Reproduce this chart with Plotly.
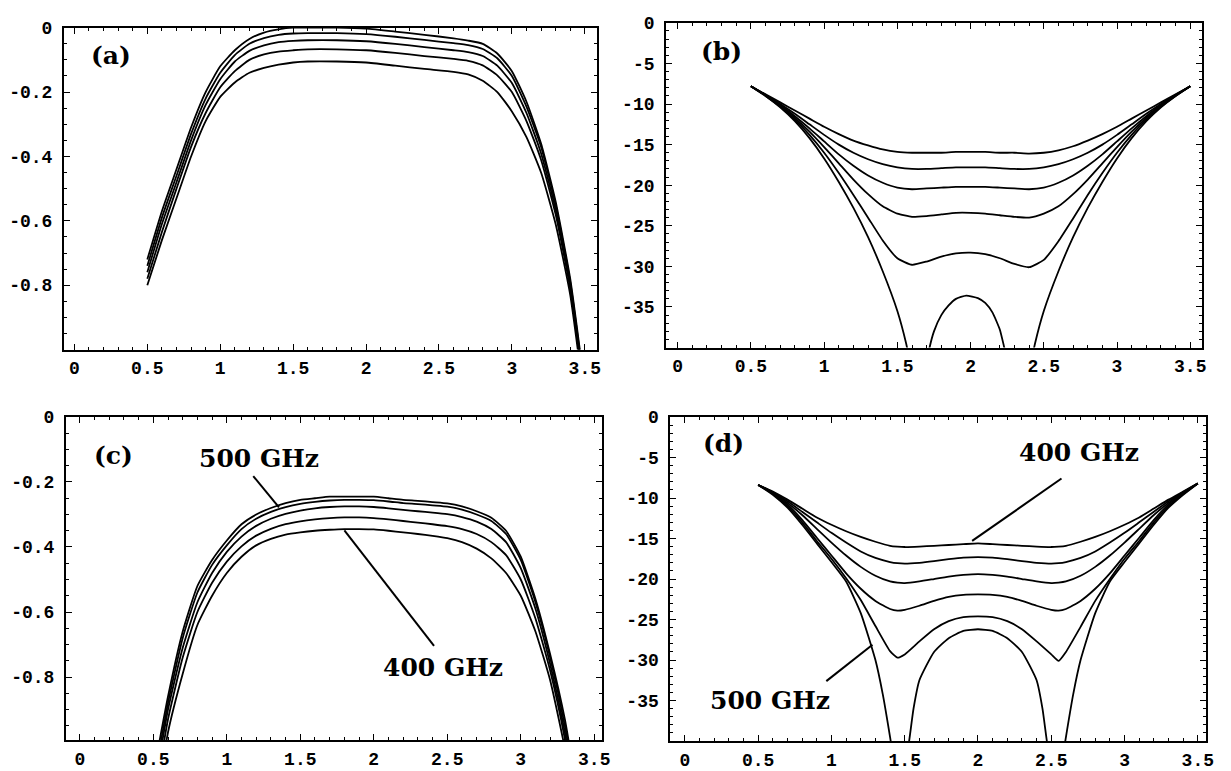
import plotly.graph_objects as go

# ---------------- data ----------------
# panel (a)
A_X = [0.5, 0.6, 0.7, 0.8, 0.9, 1.0, 1.1, 1.2, 1.3, 1.4, 1.5, 1.6, 1.8, 2.0, 2.2, 2.4, 2.6, 2.7, 2.8, 2.9, 3.0, 3.1, 3.2, 3.3, 3.4, 3.5]
A1 = [-0.72, -0.57, -0.44, -0.31, -0.2, -0.12, -0.07, -0.035, -0.015, -0.005, 0.0, 0.0, 0.0, -0.003, -0.012, -0.022, -0.033, -0.04, -0.05, -0.08, -0.135, -0.23, -0.36, -0.54, -0.78, -1.12]
A2 = [-0.74, -0.59, -0.46, -0.33, -0.22, -0.14, -0.085, -0.05, -0.032, -0.022, -0.018, -0.017, -0.017, -0.02, -0.028, -0.038, -0.048, -0.054, -0.066, -0.095, -0.15, -0.245, -0.37, -0.55, -0.79, -1.13]
A3 = [-0.76, -0.61, -0.48, -0.35, -0.24, -0.16, -0.105, -0.072, -0.055, -0.045, -0.041, -0.039, -0.039, -0.042, -0.05, -0.06, -0.07, -0.076, -0.088, -0.118, -0.172, -0.265, -0.39, -0.565, -0.8, -1.14]
A4 = [-0.78, -0.635, -0.5, -0.37, -0.265, -0.185, -0.135, -0.1, -0.083, -0.074, -0.07, -0.067, -0.067, -0.07, -0.078, -0.088, -0.097, -0.103, -0.117, -0.148, -0.2, -0.29, -0.41, -0.58, -0.81, -1.15]
A5 = [-0.8, -0.66, -0.53, -0.4, -0.29, -0.215, -0.17, -0.14, -0.125, -0.115, -0.108, -0.105, -0.105, -0.108, -0.118, -0.128, -0.137, -0.145, -0.165, -0.2, -0.26, -0.34, -0.45, -0.61, -0.83, -1.17]

# panel (b)
B_X = [0.5, 0.6, 0.7, 0.8, 0.9, 1.0, 1.1, 1.2, 1.3, 1.4, 1.5, 1.6, 1.7, 1.8, 1.9, 2.0,
       2.1, 2.2, 2.3, 2.4, 2.5, 2.6, 2.7, 2.8, 2.9, 3.0, 3.1, 3.2, 3.3, 3.4, 3.5]
B1 = [-7.8, -8.8, -9.8, -10.8, -11.8, -12.8, -13.7, -14.5, -15.1, -15.6, -15.9, -16.0, -16.0, -16.0, -15.9, -15.9,
      -15.9, -16.0, -16.0, -16.1, -16.0, -15.7, -15.2, -14.5, -13.7, -12.8, -11.8, -10.8, -9.8, -8.8, -7.8]
B2 = [-7.8, -8.9, -10.0, -11.2, -12.5, -13.8, -15.0, -16.0, -16.8, -17.4, -17.8, -18.0, -18.0, -17.9, -17.8, -17.8,
      -17.8, -17.9, -18.0, -18.0, -17.8, -17.4, -16.8, -16.0, -15.0, -13.8, -12.5, -11.2, -10.0, -8.9, -7.8]
B3 = [-7.8, -8.9, -10.1, -11.5, -13.0, -14.6, -16.2, -17.6, -18.8, -19.7, -20.3, -20.5, -20.4, -20.3, -20.2, -20.2,
      -20.2, -20.3, -20.4, -20.5, -20.3, -19.7, -18.8, -17.6, -16.2, -14.6, -13.0, -11.5, -10.1, -8.9, -7.8]
B4 = [-7.8, -8.9, -10.2, -11.7, -13.4, -15.3, -17.3, -19.3, -21.1, -22.6, -23.5, -23.9, -23.8, -23.6, -23.4, -23.4,
      -23.5, -23.7, -23.9, -24.0, -23.5, -22.6, -21.1, -19.3, -17.3, -15.3, -13.4, -11.7, -10.2, -8.9, -7.8]
B5 = [-7.8, -9.0, -10.3, -11.9, -13.8, -16.0, -18.5, -21.2, -24.0, -26.8, -29.0, -29.8, -29.4, -28.8, -28.4, -28.3,
      -28.5, -29.0, -29.7, -30.1, -29.2, -26.9, -24.1, -21.2, -18.5, -16.0, -13.8, -11.9, -10.3, -9.0, -7.8]
B6_X = [0.5, 0.6, 0.7, 0.8, 0.9, 1.0, 1.1, 1.2, 1.3, 1.4, 1.5, 1.56, 1.6, None,
        1.7, 1.72, 1.75, 1.8, 1.85, 1.9, 1.97, 2.05, 2.1, 2.15, 2.2, 2.23, 2.25, None,
        2.4, 2.44, 2.5, 2.6, 2.7, 2.8, 2.9, 3.0, 3.1, 3.2, 3.3, 3.4, 3.5]
B6 = [-7.8, -9.0, -10.4, -12.1, -14.2, -16.7, -19.6, -22.8, -26.4, -30.6, -35.5, -39.5, -43, None,
      -42, -40, -38, -36, -34.8, -34.0, -33.6, -33.9, -34.5, -35.7, -37.8, -40, -41.5, None,
      -43, -39.5, -35.5, -30.6, -26.4, -22.8, -19.6, -16.7, -14.2, -12.1, -10.4, -9.0, -7.8]

# panel (c)
C_X = [0.5, 0.6, 0.7, 0.8, 0.9, 1.0, 1.1, 1.2, 1.3, 1.4, 1.5, 1.6, 1.7, 1.8, 1.9, 2.0,
       2.1, 2.2, 2.3, 2.4, 2.5, 2.6, 2.7, 2.8, 2.9, 3.0, 3.1, 3.2, 3.3, 3.4]
C1 = [-1.1, -0.86, -0.66, -0.52, -0.44, -0.38, -0.33, -0.3, -0.28, -0.265, -0.255, -0.25, -0.245, -0.245, -0.245, -0.245,
      -0.25, -0.255, -0.258, -0.262, -0.266, -0.275, -0.29, -0.31, -0.35, -0.43, -0.56, -0.73, -0.93, -1.2]
C2 = [-1.13, -0.88, -0.68, -0.54, -0.455, -0.395, -0.345, -0.313, -0.292, -0.277, -0.267, -0.261, -0.257, -0.255, -0.255, -0.256,
      -0.26, -0.265, -0.268, -0.272, -0.276, -0.285, -0.3, -0.32, -0.36, -0.44, -0.57, -0.74, -0.95, -1.22]
C3 = [-1.16, -0.9, -0.71, -0.57, -0.48, -0.415, -0.368, -0.335, -0.313, -0.298, -0.288, -0.281, -0.277, -0.275, -0.275, -0.277,
      -0.281, -0.286, -0.29, -0.294, -0.299, -0.308, -0.322, -0.345, -0.385, -0.465, -0.59, -0.76, -0.97, -1.24]
C4 = [-1.2, -0.93, -0.74, -0.6, -0.51, -0.445, -0.398, -0.365, -0.344, -0.33, -0.321, -0.315, -0.311, -0.309, -0.309, -0.311,
      -0.315, -0.32, -0.325, -0.33, -0.336, -0.345, -0.36, -0.385, -0.425, -0.5, -0.62, -0.78, -0.99, -1.26]
C5 = [-1.25, -0.97, -0.79, -0.64, -0.55, -0.48, -0.43, -0.395, -0.375, -0.362, -0.355, -0.35, -0.347, -0.345, -0.345, -0.346,
      -0.35, -0.355, -0.36, -0.366, -0.373, -0.385, -0.405, -0.435, -0.48, -0.55, -0.66, -0.81, -1.02, -1.3]

# panel (d)
D_X = [0.5, 0.6, 0.7, 0.8, 0.9, 1.0, 1.1, 1.2, 1.3, 1.4, 1.45, 1.5, 1.6, 1.7, 1.8, 1.9, 2.0,
       2.1, 2.2, 2.3, 2.4, 2.5, 2.55, 2.6, 2.7, 2.8, 2.9, 3.0, 3.1, 3.2, 3.3, 3.4, 3.5]
D1 = [-8.4, -9.2, -10.2, -11.3, -12.4, -13.3, -14.1, -14.8, -15.4, -15.9, -16.0, -16.05, -16.0, -15.9, -15.8, -15.7, -15.6,
      -15.7, -15.8, -15.9, -16.0, -16.05, -16.0, -15.9, -15.4, -14.8, -14.1, -13.3, -12.4, -11.3, -10.2, -9.2, -8.2]
D2 = [-8.4, -9.3, -10.4, -11.7, -13.0, -14.3, -15.5, -16.6, -17.4, -17.9, -18.05, -18.1, -18.0, -17.8, -17.55, -17.35, -17.3,
      -17.35, -17.55, -17.8, -18.0, -18.1, -18.05, -17.9, -17.4, -16.6, -15.5, -14.3, -13.0, -11.7, -10.4, -9.3, -8.2]
D3 = [-8.4, -9.3, -10.6, -12.1, -13.8, -15.5, -17.1, -18.5, -19.6, -20.3, -20.45, -20.5, -20.3, -20.0, -19.7, -19.5, -19.4,
      -19.5, -19.7, -20.0, -20.3, -20.5, -20.45, -20.3, -19.6, -18.5, -17.1, -15.5, -13.8, -12.1, -10.6, -9.3, -8.2]
D4 = [-8.4, -9.4, -10.8, -12.7, -14.9, -17.1, -19.3, -21.2, -22.7, -23.7, -23.9, -23.8, -23.3, -22.7, -22.2, -21.95, -21.9,
      -21.95, -22.2, -22.7, -23.3, -23.8, -23.9, -23.7, -22.7, -21.2, -19.3, -17.1, -14.9, -12.7, -10.8, -9.4, -8.2]
D5 = [-8.4, -9.5, -11.0, -13.0, -15.3, -17.5, -19.9, -22.6, -25.8, -28.9, -29.7, -29.3, -27.7, -26.2, -25.2, -24.7, -24.6,
      -24.7, -25.2, -26.2, -27.7, -29.3, -30.1, -29.0, -25.9, -22.7, -20.0, -17.5, -15.3, -13.0, -11.0, -9.5, -8.2]
D6_X = [0.5, 0.6, 0.7, 0.8, 0.9, 1.0, 1.1, 1.2, 1.3, 1.35, 1.4, 1.43, None,
        1.5, 1.53, 1.56, 1.6, 1.7, 1.8, 1.9, 2.0, 2.1, 2.2, 2.3, 2.4, 2.44, 2.47, 2.5, None,
        2.57, 2.6, 2.65, 2.7, 2.8, 2.9, 3.0, 3.1, 3.2, 3.3, 3.4, 3.5]
D6 = [-8.4, -9.6, -11.2, -13.3, -15.6, -17.9, -20.3, -24.2, -30.0, -34.2, -39.5, -43, None,
      -43, -40, -36, -32.5, -29, -27.3, -26.4, -26.2, -26.4, -27.3, -29, -32.5, -36, -40, -43, None,
      -43, -39.5, -34.2, -30.0, -24.2, -20.3, -17.9, -15.6, -13.3, -11.2, -9.6, -8.2]

X_TICKS = [0, 0.5, 1, 1.5, 2, 2.5, 3, 3.5]
X_TICKTEXT = ["0", "0.5", "1", "1.5", "2", "2.5", "3", "3.5"]
Y_TICKS_AC = [0, -0.2, -0.4, -0.6, -0.8]
Y_TICKTEXT_AC = ["0", "-0.2", "-0.4", "-0.6", "-0.8"]
Y_TICKS_BD = [0, -5, -10, -15, -20, -25, -30, -35]
Y_TICKTEXT_BD = ["0", "-5", "-10", "-15", "-20", "-25", "-30", "-35"]

PANEL_LABELS = ["(a)", "(b)", "(c)", "(d)"]

# ---------------- figure ----------------
fig = go.Figure()

LINE = dict(color="black", width=1.8, shape="spline", smoothing=0.5)


def add(xs, ys, k):
    fig.add_trace(go.Scatter(x=xs, y=ys, mode="lines", line=LINE, connectgaps=False,
                             xaxis="x" if k == 1 else f"x{k}", yaxis="y" if k == 1 else f"y{k}",
                             showlegend=False, hoverinfo="skip"))


for ys in [A1, A2, A3, A4, A5]:
    add(A_X, ys, 1)
for ys in [B1, B2, B3, B4, B5]:
    add(B_X, ys, 2)
add(B6_X, B6, 2)
for ys in [C1, C2, C3, C4, C5]:
    add(C_X, ys, 3)
for ys in [D1, D2, D3, D4, D5]:
    add(D_X, ys, 4)
add(D6_X, D6, 4)

TICKFONT = dict(family="Liberation Mono", size=18, color="black", weight="bold")


def xstyle(domain, rng, anchor):
    return dict(domain=domain, range=rng, anchor=anchor, showline=True, linecolor="black", linewidth=1.8,
                mirror="ticks", ticks="inside", ticklen=6, tickwidth=1.3, tickcolor="black",
                showgrid=False, zeroline=False, tickmode="array", tickvals=X_TICKS, ticktext=X_TICKTEXT,
                tickfont=TICKFONT, ticklabelstandoff=1,
                minor=dict(ticks="inside", ticklen=3, tickwidth=1, tickcolor="black",
                           tickmode="linear", tick0=0, dtick=0.1, showgrid=False))


def ystyle(domain, rng, anchor, vals, text, minor_dtick):
    return dict(domain=domain, range=rng, anchor=anchor, showline=True, linecolor="black", linewidth=1.8,
                mirror="ticks", ticks="inside", ticklen=6, tickwidth=1.3, tickcolor="black",
                showgrid=False, zeroline=False, tickmode="array", tickvals=vals, ticktext=text,
                tickfont=TICKFONT, ticklabelstandoff=6,
                minor=dict(ticks="inside", ticklen=3, tickwidth=1, tickcolor="black",
                           tickmode="linear", tick0=0, dtick=minor_dtick, showgrid=False))


fig.update_layout(
    width=1231, height=771,
    margin=dict(l=0, r=0, t=0, b=0),
    paper_bgcolor="white", plot_bgcolor="white",
    xaxis=xstyle([0.0523, 0.4887], [-0.072, 3.585], "y"),
    yaxis=ystyle([0.5525, 0.9754], [-1.0, 0.0], "x", Y_TICKS_AC, Y_TICKTEXT_AC, 0.05),
    xaxis2=xstyle([0.545, 0.9836], [-0.08, 3.58], "y2"),
    yaxis2=ystyle([0.5551, 0.9818], [-40, 0], "x2", Y_TICKS_BD, Y_TICKTEXT_BD, 1),
    xaxis3=xstyle([0.0539, 0.4923], [-0.095, 3.55], "y3"),
    yaxis3=ystyle([0.0389, 0.4639], [-0.995, 0.0], "x3", Y_TICKS_AC, Y_TICKTEXT_AC, 0.05),
    xaxis4=xstyle([0.5485, 0.9868], [-0.1, 3.555], "y4"),
    yaxis4=ystyle([0.038, 0.4639], [-40, 0], "x4", Y_TICKS_BD, Y_TICKTEXT_BD, 1),
)

LABELFONT = dict(family="DejaVu Serif", size=25, color="black", weight="bold")
GHZFONT = dict(family="DejaVu Serif", size=25, color="black", weight="bold")

label_pos = [(0.25, -0.085, "x", "y"), (0.296, -3.56, "x2", "y2"),
             (0.227, -0.117, "x3", "y3"), (0.26, -3.3, "x4", "y4")]
for txt, (lx, ly, xr, yr) in zip(PANEL_LABELS, label_pos):
    fig.add_annotation(x=lx, y=ly, xref=xr, yref=yr, text=txt, showarrow=False, font=LABELFONT)

fig.add_annotation(x=1.22, y=-0.127, xref="x3", yref="y3", text="500 GHz", showarrow=False, font=GHZFONT)
fig.add_annotation(x=2.47, y=-0.77, xref="x3", yref="y3", text="400 GHz", showarrow=False, font=GHZFONT)
fig.add_annotation(x=2.69, y=-4.4, xref="x4", yref="y4", text="400 GHz", showarrow=False, font=GHZFONT)
fig.add_annotation(x=0.58, y=-35.0, xref="x4", yref="y4", text="500 GHz", showarrow=False, font=GHZFONT)

POINTERS = [((1.18, -0.182), (1.355, -0.278), "x3", "y3"),
            ((2.41, -0.704), (1.80, -0.349), "x3", "y3"),
            ((2.57, -7.6), (1.96, -15.3), "x4", "y4"),
            ((0.965, -32.6), (1.28, -28.1), "x4", "y4")]
for (x0, y0), (x1, y1), xr, yr in POINTERS:
    fig.add_shape(type="line", x0=x0, y0=y0, x1=x1, y1=y1, xref=xr, yref=yr,
                  line=dict(color="black", width=2))

fig.write_html("out.html", config={"displayModeBar": False},
               post_script="document.body.style.margin='0px';document.body.style.overflow='hidden';")
